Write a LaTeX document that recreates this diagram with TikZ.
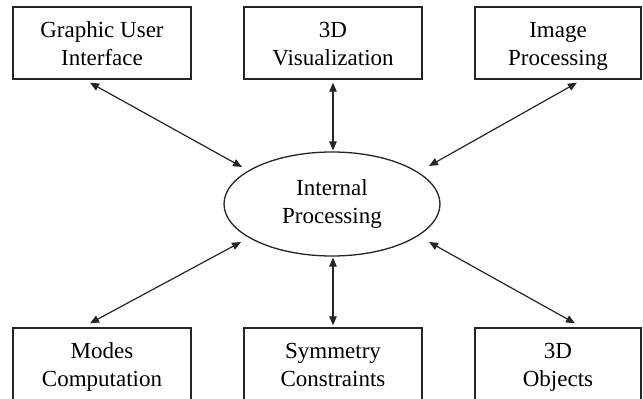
\documentclass[tikz,border=0pt]{standalone}
\usepackage{fontspec}
\setmainfont{Liberation Serif}
\usetikzlibrary{arrows.meta,shapes.geometric,calc}
\newcommand\mytopstrut{\rule{0pt}{24.5pt}}
\tikzset{
  box/.style={draw=black!85, line width=1.4pt, minimum width=178pt, minimum height=72pt, inner sep=0pt, align=center, font=\fontsize{23}{28}\selectfont},
  ell/.style={draw=black!85, line width=1.3pt, ellipse, minimum width=216pt, minimum height=104pt, inner sep=0pt, align=center, font=\fontsize{23}{28}\selectfont},
  conn/.style={draw=black!85, line width=1.2pt, {Triangle[length=9pt,width=7.5pt]}-{Triangle[length=9pt,width=7.5pt]}}
}
\begin{document}
\begin{tikzpicture}[x=1pt,y=-1pt]
\useasboundingbox (0,0) rectangle (643,399);
\fill[white] (0,0) rectangle (643,399);
\clip (0,0) rectangle (643,399);
\node[box] (gui) at (102,43) {\mytopstrut Graphic User\\\strut Interface};
\node[box] (vis) at (333,43) {\mytopstrut 3D\\\strut Visualization};
\node[box, minimum width=166pt] (img) at (558,43) {\mytopstrut Image\\\strut Processing};
\node[box] (modes) at (102,364) {\mytopstrut Modes\\\strut Computation};
\node[box] (sym) at (333,364) {\mytopstrut Symmetry\\\strut Constraints};
\node[box, minimum width=166pt] (obj) at (558,364) {\mytopstrut 3D\\\strut Objects};
\node[ell] (ip) at (332,204) {\strut Internal\\\strut Processing};
\draw[conn] ($(gui.south)+(-12,3)$) -- ($(ip.center)+(-90,-37)$);
\draw[conn] ($(vis.south)+(0,3)$) -- ($(ip.north)+(1,-1)$);
\draw[conn] ($(img.south)+(19,3)$) -- ($(ip.center)+(97,-38)$);
\draw[conn] ($(modes.north)+(-12,-4)$) -- ($(ip.center)+(-91,38)$);
\draw[conn] ($(sym.north)+(0,-2)$) -- ($(ip.south)+(1,1)$);
\draw[conn] ($(obj.north)+(17,-4)$) -- ($(ip.center)+(97,38)$);
\end{tikzpicture}
\end{document}
